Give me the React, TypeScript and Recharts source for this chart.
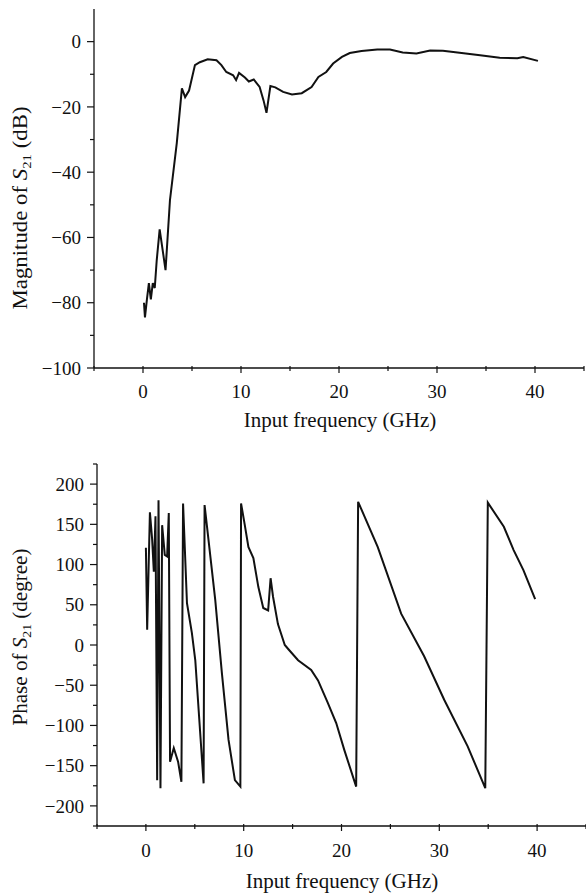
import React from "react";
import { LineChart, Line, XAxis, YAxis } from "recharts";

// ---- Data ----
const magFreq = [0.1, 0.2, 0.4, 0.6, 0.8, 1.0, 1.2, 1.4, 1.7, 2.3, 2.75, 3.45, 3.97, 4.3, 4.7, 5.3, 5.8, 6.6, 7.5, 8.0, 8.5, 9.2, 9.5, 9.8, 10.4, 10.8, 11.3, 11.9, 12.3, 12.6, 13.0, 13.5, 14.3, 15.2, 16.2, 17.2, 17.9, 18.7, 19.4, 20.3, 21.1, 22.3, 23.9, 25.2, 26.5, 27.9, 29.3, 30.6, 32.3, 34.4, 36.4, 38.2, 38.8, 40.3];
const magDb = [-80, -84.5, -79, -74, -79, -74, -75.5, -67, -57.5, -70, -48.6, -31, -14.3, -17, -15, -7.2, -6.3, -5.4, -5.7, -7.2, -9.3, -10.3, -11.8, -9.6, -11, -12.2, -11.6, -13.9, -18, -21.8, -13.6, -14, -15.4, -16.2, -15.8, -13.9, -10.8, -9.3, -6.7, -4.7, -3.5, -2.9, -2.4, -2.4, -3.3, -3.6, -2.7, -2.8, -3.4, -4.2, -4.9, -5.1, -4.7, -5.9];

const phaseFreq = [0.0, 0.13, 0.41, 0.64, 0.81, 0.98, 1.15, 1.29, 1.49, 1.66, 1.93, 2.17, 2.34, 2.47, 2.85, 3.29, 3.63, 3.8, 4.2, 4.7, 5.05, 5.9, 6.0, 7.09, 7.77, 8.45, 9.1, 9.66, 9.73, 10.1, 10.48, 10.99, 11.5, 12.0, 12.5, 12.75, 13.0, 13.5, 14.2, 14.55, 15.56, 16.9, 17.6, 18.6, 19.46, 20.3, 21.5, 21.7, 23.7, 26.1, 28.45, 30.5, 32.9, 34.7, 34.96, 36.6, 37.6, 38.6, 39.8];
const phaseDeg = [121, 19, 165, 131, 91, 160, -168, 180, -178, 149, 112, 110, 164, -145, -128, -145, -170, 176, 52, 15, -19, -172, 174, 56, -35, -118, -168, -176, 176, 150, 122, 108, 72, 46, 43, 83, 60, 26, 0, -5, -19, -31, -44, -72, -97, -131, -176, 178, 122, 39, -14, -68, -126, -178, 177, 147, 118, 93, 57];

const xTicks = [-5, 0, 5, 10, 15, 20, 25, 30, 35, 40, 45];
const magTicks = [-100, -90, -80, -70, -60, -50, -40, -30, -20, -10, 0];
const phaseTicks = [-225, -200, -175, -150, -125, -100, -75, -50, -25, 0, 25, 50, 75, 100, 125, 150, 175, 200, 225];

const magData = magFreq.map((f, i) => ({ f, v: magDb[i] }));
const phaseData = phaseFreq.map((f, i) => ({ f, v: phaseDeg[i] }));

const FONT = "'Liberation Serif', 'Times New Roman', serif";
const INK = "#111";

const fmt = (v: number) => (v < 0 ? "\u2212" + Math.abs(v) : String(v));

const makeXTick = (labelOffset: number) => (props: any) => {
  const { x, y, payload } = props;
  const v = payload.value;
  const major = v % 10 === 0;
  return (
    <g>
      <line x1={x} x2={x} y1={y - 2} y2={y + (major ? 5 : 3)} stroke={INK} strokeWidth={1.2} />
      {major && (
        <text x={x} y={y + labelOffset} textAnchor="middle" fontSize={19} fontFamily={FONT} fill={INK}>
          {fmt(v)}
        </text>
      )}
    </g>
  );
};

const makeYTick = (majorStep: number) => (props: any) => {
  const { x, y, payload } = props;
  const v = payload.value;
  const major = Math.abs(v % majorStep) === 0 && Math.abs(v) <= 200;
  return (
    <g>
      <line x1={x - (major ? 7 : 4)} x2={x} y1={y} y2={y} stroke={INK} strokeWidth={1.2} />
      {major && (
        <text x={x - 13} y={y} dy="0.35em" textAnchor="end" fontSize={19} fontFamily={FONT} fill={INK}>
          {fmt(v)}
        </text>
      )}
    </g>
  );
};

const XLabelTop = () => (
  <text x={340} y={427} textAnchor="middle" fontSize={21} fontFamily={FONT} fill={INK}>
    Input frequency (GHz)
  </text>
);
const XLabelBottom = () => (
  <text x={342} y={448} textAnchor="middle" fontSize={21} fontFamily={FONT} fill={INK}>
    Input frequency (GHz)
  </text>
);

const YLabelTop = () => (
  <text
    transform="translate(27,208) rotate(-90)"
    textAnchor="middle"
    fontSize={20}
    fontFamily={FONT}
    fill={INK}
    textLength={203}
    lengthAdjust="spacingAndGlyphs"
  >
    Magnitude of <tspan fontStyle="italic">S</tspan>
    <tspan fontSize={13} dy={4}>21</tspan>
    <tspan dy={-4}> (dB)</tspan>
  </text>
);

const YLabelBottom = () => (
  <text
    transform="translate(27,197) rotate(-90)"
    textAnchor="middle"
    fontSize={20}
    fontFamily={FONT}
    fill={INK}
    textLength={177}
    lengthAdjust="spacingAndGlyphs"
  >
    Phase of <tspan fontStyle="italic">S</tspan>
    <tspan fontSize={13} dy={4}>21</tspan>
    <tspan dy={-4}> (degree)</tspan>
  </text>
);

export default function App() {
  return (
    <div style={{ position: "absolute", left: 0, top: 0, width: 586, height: 896, background: "#fff" }}>
      <LineChart width={586} height={440} data={magData} margin={{ top: 9, right: 2, bottom: 0, left: 0 }}>
        <XAxis
          dataKey="f"
          type="number"
          domain={[-5, 45]}
          ticks={xTicks}
          interval={0}
          height={72}
          tickSize={0}
          tickMargin={0}
          tickLine={false}
          axisLine={{ stroke: INK, strokeWidth: 1.3 }}
          tick={makeXTick(30)}
          label={XLabelTop}
        />
        <YAxis
          type="number"
          domain={[-100, 10]}
          ticks={magTicks}
          interval={0}
          width={94}
          tickSize={0}
          tickMargin={0}
          tickLine={false}
          axisLine={{ stroke: INK, strokeWidth: 1.3 }}
          tick={makeYTick(20)}
          label={YLabelTop}
        />
        <Line dataKey="v" type="linear" stroke={INK} strokeWidth={2} dot={false} isAnimationActive={false} />
      </LineChart>
      <LineChart width={586} height={456} data={phaseData} margin={{ top: 24, right: 0, bottom: 0, left: 0 }}>
        <XAxis
          dataKey="f"
          type="number"
          domain={[-5, 45]}
          ticks={xTicks}
          interval={0}
          height={70}
          tickSize={0}
          tickMargin={0}
          tickLine={false}
          axisLine={{ stroke: INK, strokeWidth: 1.3 }}
          tick={makeXTick(31)}
          label={XLabelBottom}
        />
        <YAxis
          type="number"
          domain={[-225, 225]}
          ticks={phaseTicks}
          interval={0}
          width={97}
          tickSize={0}
          tickMargin={0}
          tickLine={false}
          axisLine={{ stroke: INK, strokeWidth: 1.3 }}
          tick={makeYTick(50)}
          label={YLabelBottom}
        />
        <Line dataKey="v" type="linear" stroke={INK} strokeWidth={2} dot={false} isAnimationActive={false} />
      </LineChart>
    </div>
  );
}
